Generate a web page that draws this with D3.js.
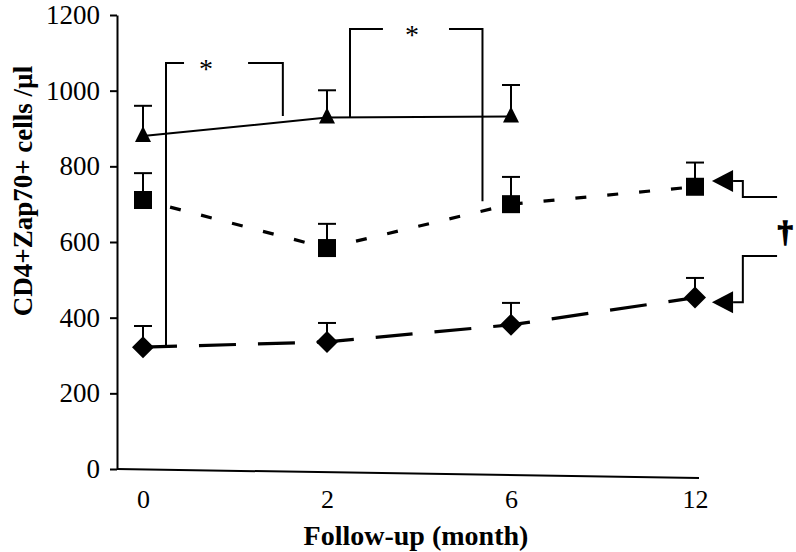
<!DOCTYPE html>
<html>
<head>
<meta charset="utf-8">
<script src="https://cdn.jsdelivr.net/npm/d3@7"></script>
<style>
  html, body { margin: 0; padding: 0; background: #fff; }
  svg { display: block; font-family: "Liberation Serif", "Times New Roman", serif; }
</style>
</head>
<body>
<svg id="chart" width="796" height="552"></svg>
<script>
// ---- data ----
const months = ["0", "2", "6", "12"];
const yTicks = [0, 200, 400, 600, 800, 1000, 1200];

// triangle series (solid line), months 0, 2, 6
const triMonths = ["0", "2", "6"];
const triMean = [880, 929, 932];
const triErr  = [80, 72, 83];

// square series (short dashes)
const sqMonths = ["0", "2", "6", "12"];
const sqMean = [711, 584, 700, 746];
const sqErr  = [71, 64, 72, 64];

// diamond series (long dashes)
const diaMonths = ["0", "2", "6", "12"];
const diaMean = [322, 336, 381, 453];
const diaErr  = [56, 50, 58, 52];

// significance brackets (x in category-index units, y in data units)
const brackets = [
  { x0: 0.125, x1: 0.76,  top: 1073, y0: 325, y1: 933, gap0: 0.223, gap1: 0.571, starX: 0.342, label: "*" },
  { x0: 1.125, x1: 1.845, top: 1163, y0: 930, y1: 708, gap0: 1.304, gap1: 1.663, starX: 1.462, label: "*" }
];
// arrows at the right
const arrows = [
  { y: 761, yEnd: 719 },
  { y: 441, yEnd: 563 }
];
const daggerLabel = "†";
const yTitle = "CD4+Zap70+ cells /µl";
const xTitle = "Follow-up (month)";

// ---- drawing ----
const svg = d3.select("#chart");
const x = d3.scalePoint().domain(months).range([143, 695]);
const xi = d3.scaleLinear().domain([0, months.length - 1]).range([143, 695]);
const y = d3.scaleLinear().domain([0, 1200]).range([469, 15]);

// y axis
const yAxis = svg.append("g").attr("transform", "translate(117,0)")
  .call(d3.axisLeft(y).tickValues(yTicks).tickSize(7).tickSizeOuter(0).tickPadding(10).tickFormat(d3.format("d")));
yAxis.select(".domain").attr("stroke", "#000").attr("stroke-width", 2);
yAxis.selectAll(".tick line").attr("stroke", "#000").attr("stroke-width", 2);
yAxis.selectAll(".tick text").attr("font-family", "Liberation Serif").attr("font-size", 27).attr("fill", "#000");

// x axis labels
const xAxis = svg.append("g").attr("transform", `translate(0,${y(0)})`)
  .call(d3.axisBottom(x).tickSize(0).tickPadding(21));
xAxis.select(".domain").remove();
xAxis.selectAll(".tick text").attr("font-family", "Liberation Serif").attr("font-size", 26).attr("fill", "#000");

// slanted baseline
svg.append("line")
  .attr("x1", 117).attr("y1", y(0))
  .attr("x2", x("12") + 4).attr("y2", y(0) + 9)
  .attr("stroke", "#000").attr("stroke-width", 2);

// titles
svg.append("text")
  .attr("transform", `translate(32,${191}) rotate(-90)`)
  .attr("text-anchor", "middle").attr("fill", "#000")
  .attr("font-weight", "bold").attr("font-size", 27)
  .text(yTitle);
svg.append("text")
  .attr("x", 416).attr("y", 545)
  .attr("text-anchor", "middle").attr("fill", "#000")
  .attr("font-weight", "bold").attr("font-size", 28)
  .text(xTitle);

function series(ms, means, errs) {
  return ms.map((m, i) => ({ m, v: means[i], e: errs[i] }));
}
const tri = series(triMonths, triMean, triErr);
const sq = series(sqMonths, sqMean, sqErr);
const dia = series(diaMonths, diaMean, diaErr);

const line = d3.line().x(d => x(d.m)).y(d => y(d.v));

svg.append("path").datum(tri).attr("d", line)
  .attr("fill", "none").attr("stroke", "#000").attr("stroke-width", 2);
svg.append("path").datum(sq).attr("d", line)
  .attr("fill", "none").attr("stroke", "#000").attr("stroke-width", 3.2)
  .attr("stroke-dasharray", "11,21").attr("stroke-dashoffset", 4);
svg.append("path").datum(dia).attr("d", line)
  .attr("fill", "none").attr("stroke", "#000").attr("stroke-width", 3.2)
  .attr("stroke-dasharray", "37,22").attr("stroke-dashoffset", 3);

// error bars
function errorBars(data) {
  const g = svg.append("g").attr("stroke", "#000").attr("stroke-width", 2);
  g.selectAll(".v").data(data).join("line")
    .attr("x1", d => x(d.m)).attr("x2", d => x(d.m))
    .attr("y1", d => y(d.v)).attr("y2", d => y(d.v + d.e));
  g.selectAll(".c").data(data).join("line")
    .attr("x1", d => x(d.m) - 9).attr("x2", d => x(d.m) + 9)
    .attr("y1", d => y(d.v + d.e)).attr("y2", d => y(d.v + d.e));
}
errorBars(tri); errorBars(sq); errorBars(dia);

// markers
svg.append("g").selectAll("path").data(tri).join("path")
  .attr("transform", d => `translate(${x(d.m)},${y(d.v)})`)
  .attr("d", "M0,-10L8,6L-8,6Z").attr("fill", "#000");
svg.append("g").selectAll("rect").data(sq).join("rect")
  .attr("x", d => x(d.m) - 9).attr("y", d => y(d.v) - 9)
  .attr("width", 18).attr("height", 18).attr("fill", "#000");
svg.append("g").selectAll("path").data(dia).join("path")
  .attr("transform", d => `translate(${x(d.m)},${y(d.v)})`)
  .attr("d", "M0,-11L11,0L0,11L-11,0Z").attr("fill", "#000");

// significance brackets
const bg = svg.append("g").attr("stroke", "#000").attr("stroke-width", 2).attr("fill", "none");
brackets.forEach(b => {
  bg.append("path").attr("d",
    `M${xi(b.x0)},${y(b.y0)}V${y(b.top)}H${xi(b.gap0)}` +
    `M${xi(b.gap1)},${y(b.top)}H${xi(b.x1)}V${y(b.y1)}`);
  svg.append("text").attr("x", xi(b.starX)).attr("y", y(b.top) + 15)
    .attr("text-anchor", "middle").attr("fill", "#000")
    .attr("font-size", 28).text(b.label);
});

// arrows at right
const tipX = xi(3.092), baseX = xi(3.207), elbowX = xi(3.26), endX = xi(3.446);
arrows.forEach(a => {
  svg.append("path")
    .attr("d", `M${tipX},${y(a.y)}L${baseX},${y(a.y) - 11}L${baseX},${y(a.y) + 11}Z`)
    .attr("fill", "#000");
  svg.append("path")
    .attr("d", `M${baseX},${y(a.y)}H${elbowX}V${y(a.yEnd)}H${endX}`)
    .attr("fill", "none").attr("stroke", "#000").attr("stroke-width", 2);
});
svg.append("text").attr("x", xi(3.49)).attr("y", y(624) + 9)
  .attr("text-anchor", "middle").attr("fill", "#000")
  .attr("font-weight", "bold").attr("font-size", 30)
  .attr("stroke", "#000").attr("stroke-width", 1.5)
  .text(daggerLabel);
</script>
</body>
</html>
